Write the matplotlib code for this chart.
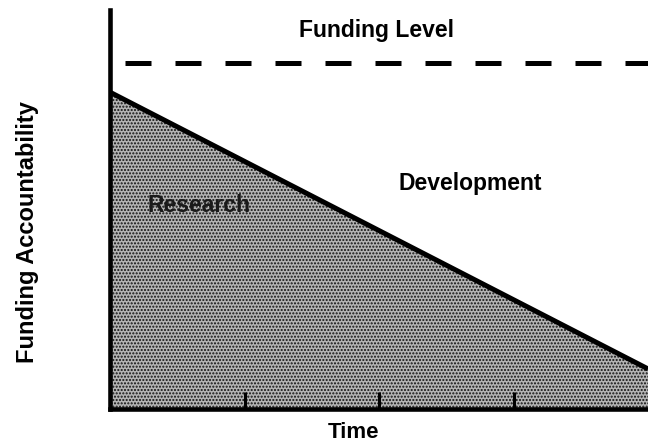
import matplotlib.pyplot as plt

# Data (arbitrary units)
time = [0, 4]
research = [7.9, 1.0]
funding_level = 8.62
time_ticks = [1, 2, 3]

font = ['Liberation Sans', 'DejaVu Sans']

fig = plt.figure(figsize=(6.48, 4.47), dpi=100)
ax = fig.add_axes([110 / 648, 38 / 447, 538 / 648, 399 / 447])

ax.set_xlim(0, 4)
ax.set_ylim(0, 9.95)

# Research area (stippled triangle)
ax.fill_between(time, research, 0, facecolor='#b4b4b4', edgecolor='#111111',
                hatch='.....', linewidth=0, zorder=1)
ax.plot(time, research, color='black', linewidth=3.6, solid_capstyle='butt', zorder=3)

# Funding level (dashed)
ax.plot(time, [funding_level, funding_level], color='black', linewidth=3.6,
        linestyle=(7, (5.2, 4.8)), zorder=3)

# Spines and ticks
for side in ['top', 'right']:
    ax.spines[side].set_visible(False)
for side in ['left', 'bottom']:
    ax.spines[side].set_linewidth(3.3)
    ax.spines[side].set_zorder(4)
ax.set_xticks(time_ticks)
ax.set_xticklabels([])
ax.set_yticks([])
ax.tick_params(axis='x', direction='in', length=12, width=2.2, color='black')

ax.text(1.98, 9.45, 'Funding Level', ha='center', va='center', fontsize=16.5,
        fontweight='bold', family=font)
ax.text(2.68, 5.63, 'Development', ha='center', va='center', fontsize=16.5,
        fontweight='bold', family=font)
ax.text(0.66, 5.08, 'Research', ha='center', va='center', fontsize=16.5,
        fontweight='bold', color='#1a1a1a', family=font, zorder=5)

fig.text(28 / 648, 1 - 232 / 447, 'Funding Accountability', rotation=90,
         ha='center', va='center', fontsize=17, fontweight='bold', family=font)
fig.text(354 / 648, 1 - 432 / 447, 'Time', ha='center', va='center', fontsize=16,
         fontweight='bold', family=font)

fig.savefig('out.png', dpi=100)
